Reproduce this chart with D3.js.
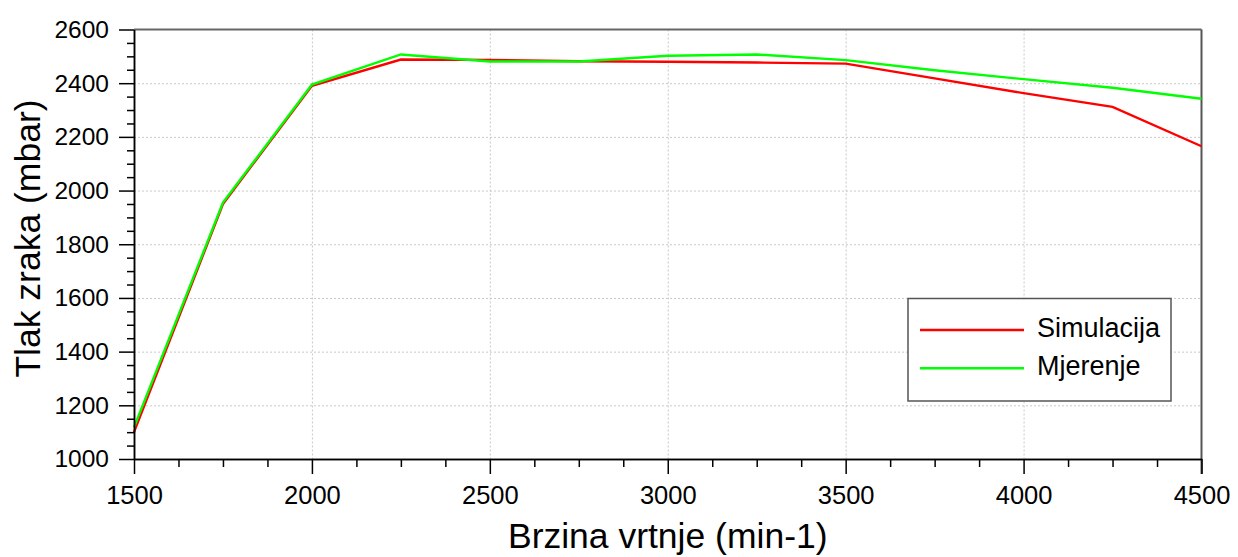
<!DOCTYPE html>
<html lang="hr">
<head>
<meta charset="UTF-8">
<title>Tlak zraka</title>
<script src="https://d3js.org/d3.v7.min.js"></script>
<style>
  body { margin: 0; background: #fff; font-family: "Liberation Sans", Arial, sans-serif; }
  .grid line { stroke: #c8c8c8; stroke-dasharray: 2,2; }
  .grid path { display: none; }
  .axis text { fill: #000; }
  .xaxis text { font-size: 25.5px; }
  .yaxis text { font-size: 24.5px; }
  .axis path, .axis line { stroke: #000; stroke-width: 1.5; }
</style>
</head>
<body>
<svg id="chart" width="1238" height="557"></svg>
<script>
// podaci
const rpm = [1500, 1750, 2000, 2250, 2500, 2750, 3000, 3250, 3500, 3750, 4000, 4250, 4500];
const simulacija = [1100, 1950, 2390, 2488, 2487, 2482, 2480, 2477, 2473, 2418, 2363, 2312, 2165];
const mjerenje   = [1118, 1955, 2395, 2507, 2481, 2481, 2502, 2507, 2486, 2448, 2415, 2383, 2342];
const xTicks = [1500, 2000, 2500, 3000, 3500, 4000, 4500];
const yTicks = [1000, 1200, 1400, 1600, 1800, 2000, 2200, 2400, 2600];

const series = [
  { name: "Simulacija", values: simulacija, color: "#ff0000" },
  { name: "Mjerenje", values: mjerenje, color: "#00ff00" }
];

const svg = d3.select("#chart");
const m = { left: 134, top: 29.5, right: 36.5, bottom: 98 };
const W = 1238 - m.left - m.right, H = 557 - m.top - m.bottom;

const x = d3.scaleLinear().domain([1500, 4500]).range([0, W]);
const y = d3.scaleLinear().domain([1000, 2600]).range([H, 0]);

const g = svg.append("g").attr("transform", `translate(${m.left},${m.top})`);

// mreža
g.append("g").attr("class", "grid")
  .call(d3.axisLeft(y).tickValues(yTicks.slice(1, -1)).tickSize(-W).tickFormat(""));
g.append("g").attr("class", "grid")
  .call(d3.axisBottom(x).tickValues(xTicks.slice(1, -1)).tickSize(H).tickFormat(""));

// okvir gore i desno
g.append("line").attr("x1", 0).attr("x2", W).attr("y1", 0).attr("y2", 0)
  .attr("stroke", "#666").attr("stroke-width", 2);
g.append("line").attr("x1", W).attr("x2", W).attr("y1", 0).attr("y2", H + 15)
  .attr("stroke", "#555").attr("stroke-width", 2);

// linije
const line = d3.line().x((d, i) => x(rpm[i])).y(d => y(d));
series.forEach(s => {
  g.append("path").datum(s.values)
    .attr("fill", "none").attr("stroke", s.color).attr("stroke-width", 2.4)
    .attr("d", line);
});

// osi - sporedne oznake
const minorX = d3.range(1500, 4501, 125).filter(v => !xTicks.includes(v));
const minorY = d3.range(1000, 2601, 50).filter(v => !yTicks.includes(v));
g.append("g").attr("class", "axis").attr("transform", `translate(0,${H})`)
  .call(d3.axisBottom(x).tickValues(minorX).tickSize(8).tickFormat("").tickSizeOuter(0));
g.append("g").attr("class", "axis")
  .call(d3.axisLeft(y).tickValues(minorY).tickSize(7).tickFormat("").tickSizeOuter(0));

// glavne oznake
g.append("g").attr("class", "axis xaxis").attr("transform", `translate(0,${H})`)
  .call(d3.axisBottom(x).tickValues(xTicks).tickSize(15).tickPadding(12).tickFormat(d3.format("d")).tickSizeOuter(0));
g.append("g").attr("class", "axis yaxis")
  .call(d3.axisLeft(y).tickValues(yTicks).tickSize(15).tickPadding(10).tickFormat(d3.format("d")).tickSizeOuter(0));

// naslovi osi
svg.append("text").attr("x", m.left + W / 2).attr("y", 548)
  .attr("text-anchor", "middle").attr("font-size", 35.5).text("Brzina vrtnje (min-1)");
svg.append("text").attr("transform", "translate(40,238.5) rotate(-90)")
  .attr("text-anchor", "middle").attr("font-size", 35.5).text("Tlak zraka (mbar)");

// legenda
const lg = svg.append("g").attr("transform", "translate(908,298.5)");
lg.append("rect").attr("width", 263).attr("height", 102.5)
  .attr("fill", "#fff").attr("stroke", "#555").attr("stroke-width", 1.5);
series.forEach((s, i) => {
  const ly = 31.5 + i * 38.3;
  lg.append("line").attr("x1", 12).attr("x2", 116).attr("y1", ly).attr("y2", ly)
    .attr("stroke", s.color).attr("stroke-width", 2.4);
  lg.append("text").attr("x", 129).attr("y", ly + 6.5).attr("font-size", 27).text(s.name);
});
</script>
</body>
</html>
